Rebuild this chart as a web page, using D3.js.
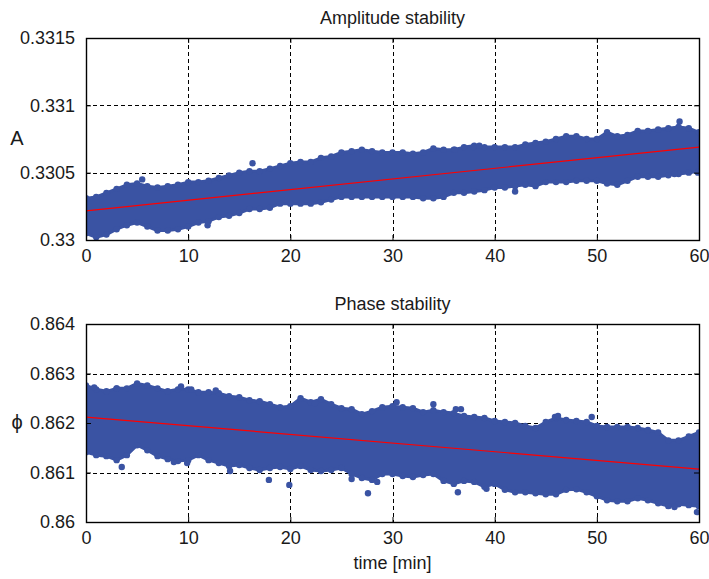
<!DOCTYPE html>
<html>
<head>
<meta charset="utf-8">
<script src="https://cdn.jsdelivr.net/npm/d3@7"></script>
<style>
  body { margin: 0; background: #fff; }
  text { font-family: "Liberation Sans", Arial, sans-serif; fill: #1a1a1a; }
</style>
</head>
<body>
<svg id="chart" width="709" height="579"></svg>
<script>
// Sample times (minutes) at which the spread of the measurements is given
const times = [0,1,2,3,4,5,6,7,8,9,10,11,12,13,14,15,16,17,18,19,20,
  21,22,23,24,25,26,27,28,29,30,31,32,33,34,35,36,37,38,39,40,
  41,42,43,44,45,46,47,48,49,50,51,52,53,54,55,56,57,58,59,60];

// Amplitude: upper / lower edge of the measured cloud at each minute
const ampUpper = [0.33031,0.33032,0.33035,0.33038,0.33041,0.33042,0.33040,0.33039,0.33040,0.33041,
  0.33043,0.33043,0.33044,0.33046,0.33048,0.33050,0.33051,0.33051,0.33053,0.33055,
  0.33057,0.33058,0.33058,0.33061,0.33062,0.33065,0.33066,0.33067,0.33066,0.33065,
  0.33065,0.33065,0.33064,0.33065,0.33068,0.33067,0.33067,0.33069,0.33070,0.33069,
  0.33069,0.33069,0.33069,0.33071,0.33072,0.33073,0.33075,0.33077,0.33077,0.33075,
  0.33075,0.33080,0.33077,0.33078,0.33081,0.33081,0.33082,0.33083,0.33084,0.33083,
  0.33080];
const ampLower = [0.33005,0.33002,0.33004,0.33008,0.33011,0.33013,0.33010,0.33007,0.33007,0.33008,
  0.33010,0.33013,0.33014,0.33017,0.33018,0.33020,0.33023,0.33023,0.33024,0.33027,
  0.33027,0.33027,0.33027,0.33028,0.33030,0.33032,0.33032,0.33032,0.33032,0.33032,
  0.33032,0.33032,0.33032,0.33031,0.33031,0.33032,0.33035,0.33035,0.33036,0.33037,
  0.33039,0.33039,0.33040,0.33041,0.33040,0.33043,0.33043,0.33043,0.33044,0.33044,
  0.33044,0.33042,0.33041,0.33044,0.33047,0.33047,0.33047,0.33048,0.33049,0.33050,
  0.33051];
// Isolated amplitude samples outside the main band: [time, value]
const ampOutliers = [[5.5,0.33045],[11.9,0.33011],[16.3,0.33057],[36.1,0.33067],[37.9,0.33069],
  [38.5,0.33070],[42.0,0.33036],[58.1,0.33088],[57.6,0.33049],[59.9,0.33050]];
// Linear fit of the amplitude drift: [time, value]
const ampTrend = [[0,0.330216],[60,0.33069]];

// Phase: upper / lower edge of the measured cloud at each minute
const phaseUpper = [0.86276,0.86268,0.86264,0.86270,0.86270,0.86280,0.86276,0.86270,0.86264,0.86268,
  0.86268,0.86262,0.86262,0.86260,0.86254,0.86252,0.86246,0.86244,0.86238,0.86232,
  0.86234,0.86250,0.86242,0.86248,0.86238,0.86230,0.86228,0.86218,0.86224,0.86232,
  0.86234,0.86232,0.86230,0.86222,0.86226,0.86222,0.86220,0.86214,0.86212,0.86210,
  0.86204,0.86202,0.86200,0.86194,0.86190,0.86202,0.86210,0.86206,0.86204,0.86202,
  0.86194,0.86192,0.86192,0.86192,0.86190,0.86186,0.86181,0.86165,0.86165,0.86173,
  0.86181];
const phaseLower = [0.86141,0.86135,0.86133,0.86125,0.86135,0.86155,0.86145,0.86133,0.86127,0.86123,
  0.86125,0.86135,0.86125,0.86119,0.86113,0.86115,0.86109,0.86105,0.86109,0.86111,
  0.86107,0.86113,0.86105,0.86103,0.86105,0.86109,0.86097,0.86089,0.86085,0.86097,
  0.86097,0.86093,0.86091,0.86095,0.86097,0.86083,0.86077,0.86083,0.86081,0.86071,
  0.86077,0.86065,0.86060,0.86060,0.86058,0.86056,0.86056,0.86065,0.86066,0.86060,
  0.86052,0.86044,0.86042,0.86042,0.86048,0.86044,0.86038,0.86032,0.86036,0.86034,
  0.86032];
const phaseOutliers = [[0.8,0.86272],[3.0,0.86270],[9.3,0.86274],[10.3,0.86268],[12.7,0.86266],
  [3.5,0.86111],[8.6,0.86121],[9.9,0.86119],[14.1,0.86103],[17.9,0.86085],[19.9,0.86075],
  [22.4,0.86240],[30.4,0.86242],[34.0,0.86238],[36.2,0.86228],[36.7,0.86228],[27.6,0.86058],
  [26.0,0.86087],[28.5,0.86081],[36.4,0.86060],[39.2,0.86067],[49.5,0.86212],[45.9,0.86212],
  [46.2,0.86214],[59.8,0.86020],[57.6,0.86030]];
const phaseTrend = [[0,0.86212],[60,0.86107]];

// Axis ticks
const xTicks = [0,10,20,30,40,50,60];
const ampTicks = [0.33,0.3305,0.331,0.3315];
const ampTickLabels = ["0.33","0.3305","0.331","0.3315"];
const phaseTicks = [0.86,0.861,0.862,0.863,0.864];
const phaseTickLabels = ["0.86","0.861","0.862","0.863","0.864"];

const svg = d3.select("#chart");
const dotColor = "#3A53A3";
const left = 86, right = 699;
const x = d3.scaleLinear().domain([0, 60]).range([left, right]);
const crisp = v => Math.round(v) + 0.5;

const panels = [
  { id: "amp", title: "Amplitude stability", ylabel: "A", top: 38, bottom: 240,
    ticks: ampTicks, labels: ampTickLabels, upper: ampUpper, lower: ampLower,
    outliers: ampOutliers, trend: ampTrend, xlabel: null },
  { id: "phase", title: "Phase stability", ylabel: "\u03D5", top: 324, bottom: 522,
    ticks: phaseTicks, labels: phaseTickLabels, upper: phaseUpper, lower: phaseLower,
    outliers: phaseOutliers, trend: phaseTrend, xlabel: "time [min]" }
];

panels.forEach(p => {
  const y = d3.scaleLinear().domain(d3.extent(p.ticks)).range([p.bottom, p.top]);
  const g = svg.append("g");

  // dashed grid
  g.append("g").selectAll("line").data(xTicks.slice(1, -1)).join("line")
    .attr("x1", d => crisp(x(d))).attr("x2", d => crisp(x(d))).attr("y1", p.top).attr("y2", p.bottom)
    .attr("stroke", "#000").attr("stroke-width", 1).attr("stroke-dasharray", "4,3");
  g.append("g").selectAll("line").data(p.ticks.slice(1, -1)).join("line")
    .attr("x1", left).attr("x2", right).attr("y1", d => crisp(y(d))).attr("y2", d => crisp(y(d)))
    .attr("stroke", "#000").attr("stroke-width", 1).attr("stroke-dasharray", "4,3");

  // measurement cloud, clipped to the axes box
  svg.append("clipPath").attr("id", "clip-" + p.id).append("rect")
    .attr("x", left).attr("y", p.top).attr("width", right - left).attr("height", p.bottom - p.top);
  const cloud = g.append("g").attr("clip-path", `url(#clip-${p.id})`);
  const band = times.map((t, i) => ({ t, hi: p.upper[i], lo: p.lower[i] }));
  const area = d3.area().x(d => x(d.t)).y0(d => y(d.lo)).y1(d => y(d.hi));
  cloud.append("path").datum(band).attr("d", area)
    .attr("fill", dotColor).attr("stroke", dotColor).attr("stroke-width", 3)
    .attr("stroke-linejoin", "round");
  const edgePts = band.flatMap(d => [[d.t, d.hi], [d.t, d.lo]]).concat(p.outliers);
  cloud.append("g").selectAll("circle").data(edgePts).join("circle")
    .attr("cx", d => x(d[0])).attr("cy", d => y(d[1])).attr("r", 3.2)
    .attr("fill", dotColor);

  // linear trend
  cloud.append("path").datum(p.trend)
    .attr("d", d3.line().x(d => x(d[0])).y(d => y(d[1])))
    .attr("fill", "none").attr("stroke", "#FF0000").attr("stroke-width", 1.2);

  // axes box with inward ticks on all sides
  g.append("rect").attr("x", left + 0.5).attr("y", p.top + 0.5).attr("width", right - left)
    .attr("height", p.bottom - p.top).attr("fill", "none").attr("stroke", "#000").attr("stroke-width", 1.4);
  const tl = 5;
  const bottomAxis = d3.axisBottom(x).tickValues(xTicks).tickSize(-tl).tickPadding(9).tickFormat(d3.format("d"));
  const topAxis = d3.axisTop(x).tickValues(xTicks).tickSize(-tl).tickFormat("");
  const leftAxis = d3.axisLeft(y).tickValues(p.ticks).tickSize(-tl).tickPadding(11)
    .tickFormat((d, i) => p.labels[i]);
  const rightAxis = d3.axisRight(y).tickValues(p.ticks).tickSize(-tl).tickFormat("");
  [[bottomAxis, `translate(0,${p.bottom})`], [topAxis, `translate(0,${p.top})`],
   [leftAxis, `translate(${left},0)`], [rightAxis, `translate(${right},0)`]].forEach(([ax, tr]) => {
    const a = g.append("g").attr("transform", tr).call(ax);
    a.select(".domain").remove();
    a.selectAll("line").attr("stroke", "#000");
    a.selectAll("text").attr("font-size", 18).attr("fill", "#1a1a1a")
      .style("font-family", '"Liberation Sans", Arial, sans-serif');
  });

  // titles and labels
  g.append("text").attr("x", (left + right) / 2).attr("y", p.top - 14)
    .attr("text-anchor", "middle").attr("font-size", 18).text(p.title);
  g.append("text").attr("x", 17).attr("y", (p.top + p.bottom) / 2 + 1)
    .attr("text-anchor", "middle").attr("dominant-baseline", "middle")
    .attr("font-size", 20).text(p.ylabel);
  if (p.xlabel) {
    g.append("text").attr("x", (left + right) / 2).attr("y", p.bottom + 47)
      .attr("text-anchor", "middle").attr("font-size", 18).text(p.xlabel);
  }
});
</script>
</body>
</html>
